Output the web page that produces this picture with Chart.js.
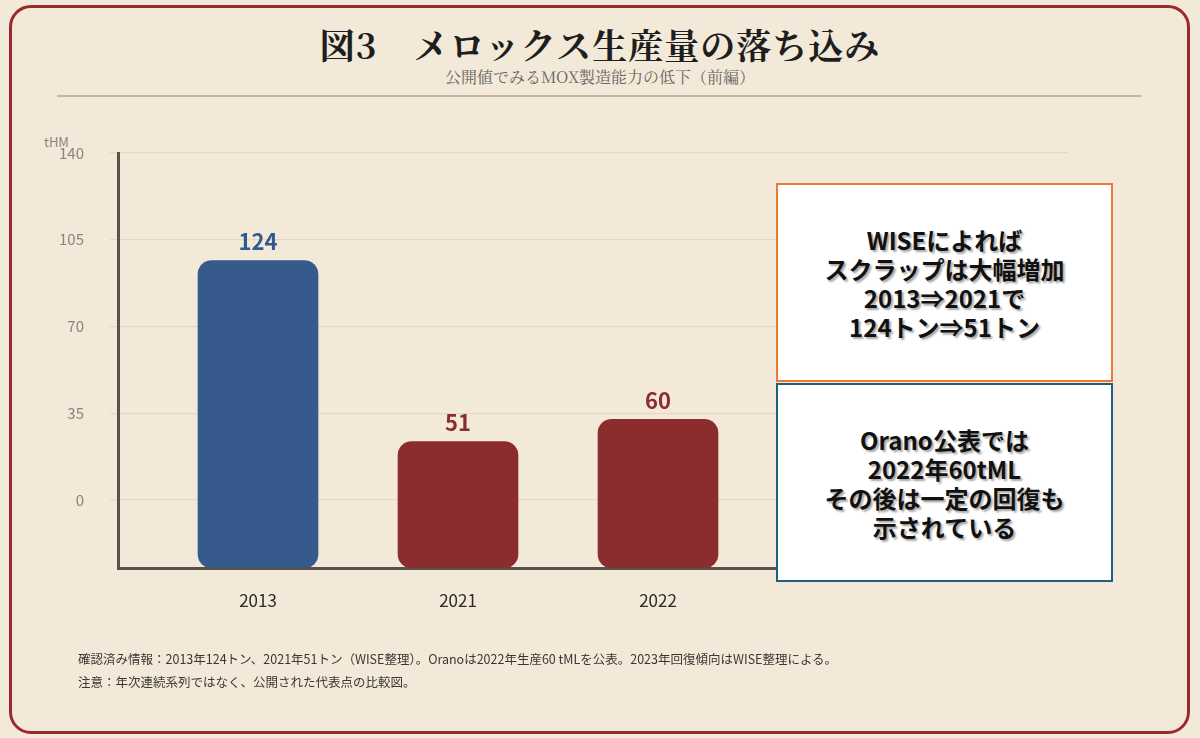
<!DOCTYPE html>
<html lang="ja">
<head>
<meta charset="utf-8">
<style>
    html, body { margin: 0; padding: 0; background: #f3e9d9; }
    #page { position: relative; width: 1200px; height: 738px; overflow: hidden; background: #f3e9d9; font-family: "Noto Sans CJK JP", "Noto Sans", sans-serif; }
    #frame { position: absolute; left: 9px; top: 5px; width: 1175px; height: 723px; border: 3px solid #9c2a2c; border-radius: 22px; }
    #title { position: absolute; left: 0; width: 1200px; top: 19px; text-align: center; font-family: "Noto Serif CJK JP", "DejaVu Serif", serif; font-weight: bold; font-size: 35px; color: #1e1e1e; letter-spacing: 1px; }
    #subtitle { position: absolute; left: 0; width: 1200px; top: 65px; text-align: center; font-family: "Noto Serif CJK JP", "DejaVu Serif", serif; font-size: 16px; color: #6b6560; }
    #rule { position: absolute; left: 57px; width: 1084px; top: 95px; height: 1.5px; background: #c8b4a4; }
    #unit { position: absolute; left: 44px; top: 132px; font-size: 13px; color: #8a847e; }
    #chart { position: absolute; left: 0; top: 0; width: 1200px; height: 738px; }
    .note { position: absolute; display: flex; align-items: center; justify-content: center; text-align: center; background: #fff; box-sizing: border-box;
            font-weight: bold; font-size: 24px; line-height: 29px; color: #111; text-shadow: 2px 2px 2px rgba(0,0,0,0.35); }
    #note1 { left: 776px; top: 183px; width: 337px; height: 199px; border: 2.5px solid #ec7a34; }
    #note2 { left: 776px; top: 383px; width: 337px; height: 199px; border: 2.5px solid #1d5e83; }
    .foot { position: absolute; left: 78px; font-size: 12.5px; color: #3c3733; white-space: nowrap; }
</style>
</head>
<body>
<div id="page">
    <div id="frame"></div>
    <div id="title">図3　メロックス生産量の落ち込み</div>
    <div id="subtitle">公開値でみるMOX製造能力の低下（前編）</div>
    <div id="rule"></div>
    <div id="unit">tHM</div>
    <canvas id="chart" width="1200" height="738"></canvas>
    <div class="note" id="note1">WISEによれば<br>スクラップは大幅増加<br>2013⇒2021で<br>124トン⇒51トン</div>
    <div class="note" id="note2">Orano公表では<br>2022年60tML<br>その後は一定の回復も<br>示されている</div>
    <div class="foot" style="top: 649px;">確認済み情報：2013年124トン、2021年51トン（WISE整理）。Oranoは2022年生産60 tMLを公表。2023年回復傾向はWISE整理による。</div>
    <div class="foot" style="top: 672px;">注意：年次連続系列ではなく、公開された代表点の比較図。</div>
</div>

<script src="https://cdn.jsdelivr.net/npm/chart.js"></script>

<script>
    const years = ['2013', '2021', '2022']
    const output = [124, 51, 60]
    const barColors = ['#355a8b', '#8b2d2f', '#8b2d2f']
    const labelColors = ['#2f5a90', '#8b2d2f', '#8b2d2f']
    const yTicks = [0, 35, 70, 105, 140]

    // value labels above the bars, drawn last so they sit over the grid
    const valueLabels = {
        id: 'valueLabels',
        afterDraw(chart) {
            const ctx = chart.ctx
            const meta = chart.getDatasetMeta(0)
            ctx.save()
            ctx.font = 'bold 22px "Noto Sans CJK JP", "Noto Sans", sans-serif'
            ctx.textAlign = 'center'
            ctx.textBaseline = 'middle'
            meta.data.forEach((bar, i) => {
                ctx.fillStyle = labelColors[i]
                ctx.fillText(String(output[i]), bar.x, bar.y - 19)
            })
            ctx.restore()
        }
    }

    new Chart(document.getElementById('chart'), {
        type: 'bar',
        data: {
            datasets: [{
                data: output.map((v, i) => ({ x: i, y: v })),
                backgroundColor: barColors,
                borderRadius: 14,
                borderSkipped: false,
                barThickness: 120,
                yAxisID: 'yb'
            }]
        },
        options: {
            responsive: false,
            animation: false,
            layout: { padding: { left: 58, top: 153, right: 132, bottom: 120 } },
            plugins: { legend: { display: false }, tooltip: { enabled: false } },
            scales: {
                x: {
                    type: 'linear',
                    offset: false,
                    min: -0.7,
                    max: 4.05,
                    afterBuildTicks: s => { s.ticks = years.map((_, i) => ({ value: i })) },
                    afterFit: s => { s.height = 50 },
                    grid: { display: false, offset: false },
                    border: { color: '#5a514b', width: 3 },
                    ticks: {
                        callback: v => years[v] ?? '',
                        color: '#2e2a27',
                        padding: 14,
                        font: { size: 17, family: '"Noto Sans CJK JP", "Noto Sans", sans-serif' }
                    }
                },
                y: {
                    position: 'left',
                    min: -27.4,
                    max: 140,
                    z: 1,
                    afterBuildTicks: s => { s.ticks = yTicks.map(v => ({ value: v })) },
                    afterFit: s => { s.width = 60 },
                    grid: { color: 'rgba(225,205,190,0.7)', lineWidth: 1.2, tickLength: 8 },
                    border: { color: '#5a514b', width: 3 },
                    ticks: {
                        color: '#8a847e',
                        padding: 26,
                        font: { size: 15, family: '"Noto Sans CJK JP", "Noto Sans", sans-serif' }
                    }
                },
                yb: {
                    display: false,
                    min: 0,
                    max: 167.4
                }
            }
        },
        plugins: [valueLabels]
    })
</script>
</body>
</html>
